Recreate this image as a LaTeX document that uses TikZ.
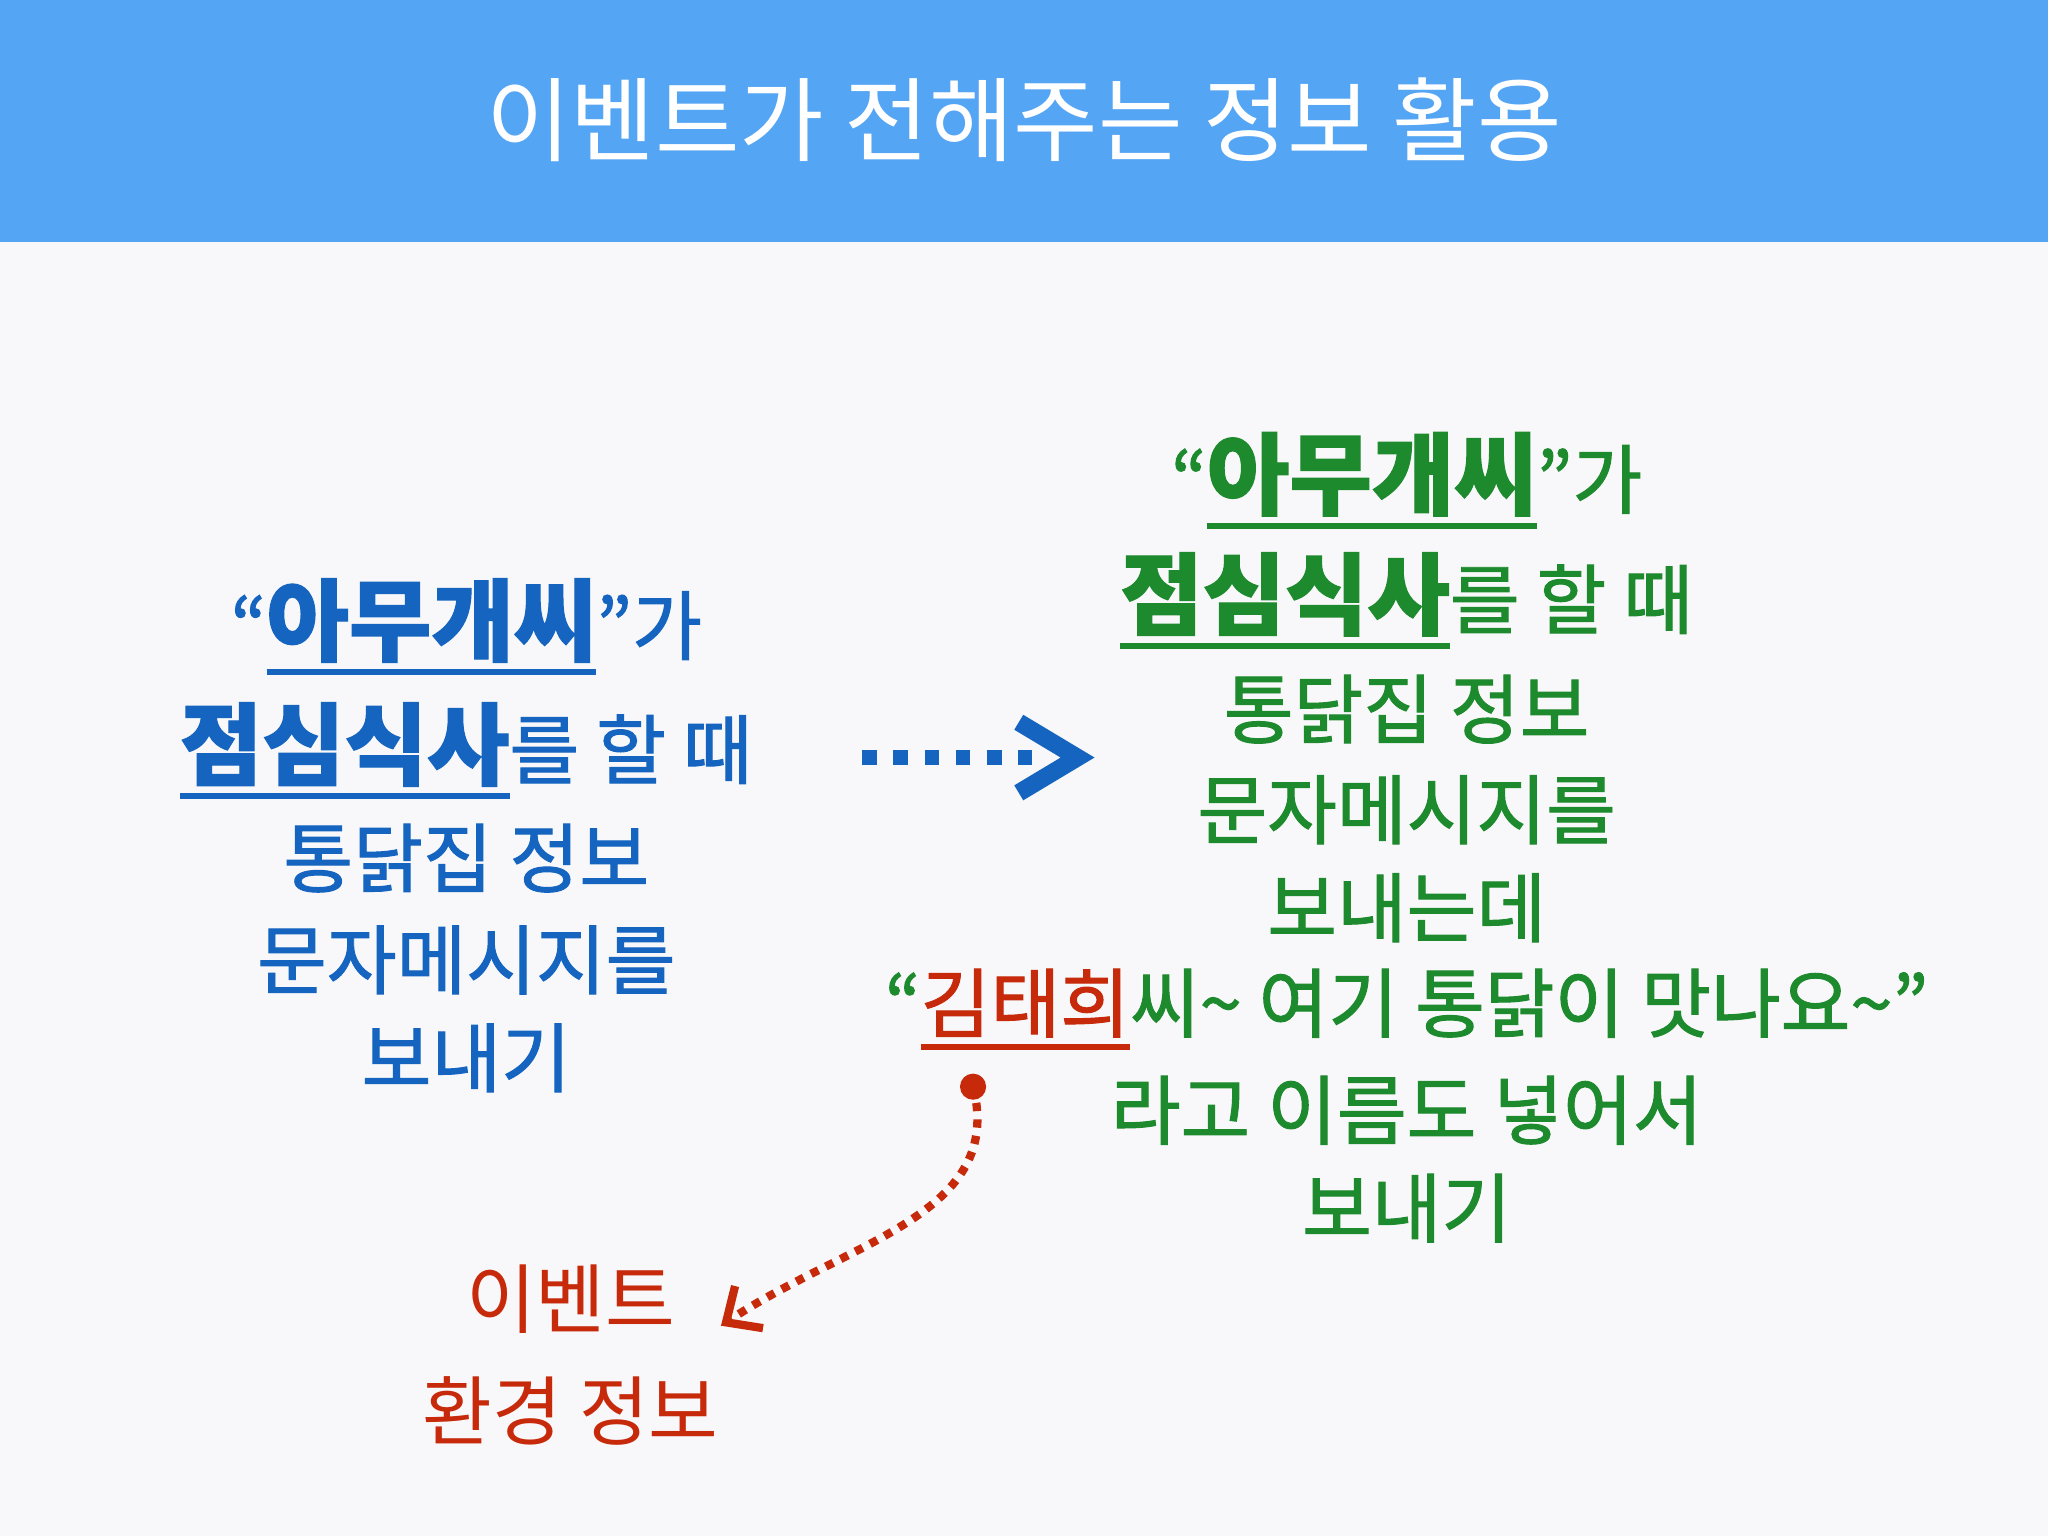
\documentclass[tikz,border=0pt]{standalone}
\usepackage{fontspec}
\setmainfont{Noto Sans CJK KR}
\newfontfamily\med[FakeBold=1.3]{Noto Sans CJK KR}
\usetikzlibrary{arrows.meta}
\definecolor{band}{HTML}{55A5F5}
\definecolor{bg}{HTML}{F8F8FA}
\definecolor{cb}{HTML}{1565C0}
\definecolor{cg}{HTML}{1E8A2E}
\definecolor{cr}{HTML}{C62A0A}
\newcommand{\myul}[1]{\leavevmode\vtop{\hbox{#1}\kern1.5pt\hrule height 1.3pt}}
\newcommand{\bg}[1]{{\fontsize{19.5}{22}\selectfont\bfseries #1}}
\tikzset{
 bl/.style={text=cb,font=\fontsize{16.5}{18}\selectfont\med,inner sep=0},
 gl/.style={text=cg,font=\fontsize{16.5}{18}\selectfont\med,inner sep=0},
 rl/.style={text=cr,font=\fontsize{16.5}{18}\selectfont,inner sep=0}
}
\begin{document}
\begin{tikzpicture}[x=0.01cm,y=-0.01cm]
\fill[bg] (0,0) rectangle (1568,1176);
\fill[band] (0,0) rectangle (1568,185);
\node[text=white,font=\fontsize{20}{22}\selectfont] (title) at (784,92) {이벤트가 전해주는 정보 활용};
% left
\node[bl] (l1) at (357,480) {“\bg{\myul{아무개씨}}”가};
\node[bl] (l2) at (357,575) {\bg{\myul{점심식사}}를 할 때};
\node[bl] (l3) at (357,657) {통닭집 정보};
\node[bl] (l4) at (357,735) {문자메시지를};
\node[bl] (l5) at (357,810) {보내기};
% right
\node[gl] (r1) at (1077,368) {“\bg{\myul{아무개씨}}”가};
\node[gl] (r2) at (1077,460) {\bg{\myul{점심식사}}를 할 때};
\node[gl] (r3) at (1077,543) {통닭집 정보};
\node[gl] (r4) at (1077,620) {문자메시지를};
\node[gl] (r5) at (1077,695) {보내는데};
\node[gl] (r6) at (1077,773) {“{\color{cr}\myul{김태희}}씨\textasciitilde{} 여기 통닭이 맛나요\textasciitilde”};
\node[gl] (r7) at (1077,850) {라고 이름도 넣어서};
\node[gl] (r8) at (1077,925) {보내기};
% arrow
\coordinate (a1) at (660,580);
\coordinate (a2) at (830,580);
\draw[cb,line width=3.2pt,dash pattern=on 3.2pt off 3.6pt] (a1) -- (790,580);
\draw[cb,line width=3.8pt,line join=miter] (780,553) -- (825,580) -- (780,607);
% red
\node[rl] (e1) at (437,995) {이벤트};
\node[rl] (e2) at (437,1080) {환경 정보};
\coordinate (d) at (745,832);
\fill[cr] (d) circle (10);
\draw[cr,line width=1.8pt,dash pattern=on 1.8pt off 1.8pt,-{Straight Barb[length=6pt,width=11pt,line width=1.8pt]}] (d) .. controls (770,930) and (650,950) .. (552,1015);
\end{tikzpicture}
\end{document}
